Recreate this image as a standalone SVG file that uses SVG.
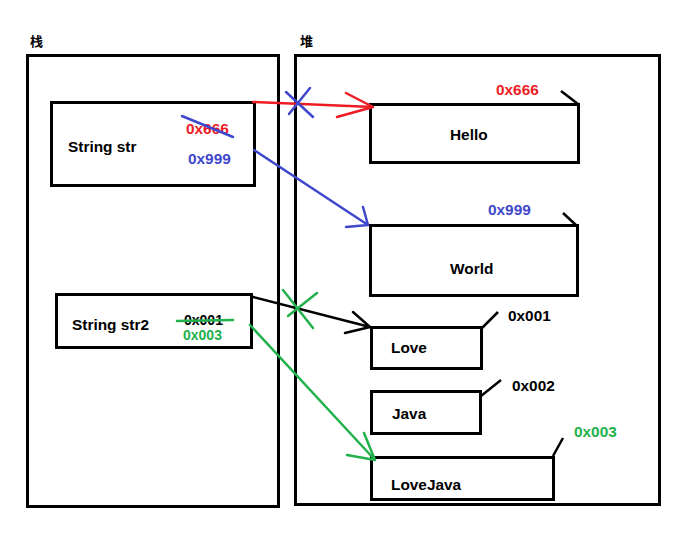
<svg xmlns="http://www.w3.org/2000/svg" width="695" height="557" viewBox="0 0 695 557">
<style>
.box{fill:none;stroke:#000;stroke-width:3}
.t{font-family:"Liberation Sans",Arial,sans-serif;font-weight:bold;font-size:15.4px;fill:#000}
.s{font-size:14px}
.cn{font-family:"Noto Sans CJK SC",sans-serif;font-weight:bold;font-size:13px;fill:#000}
.r{fill:#ed1c24}.b{fill:#3f48cc}.g{fill:#22b14c}
.ln{fill:none;stroke-width:2.5;stroke-linecap:round}
.tick{fill:none;stroke:#000;stroke-width:2.5}
</style>
<rect width="695" height="557" fill="#fff"/>
<text class="cn" x="30" y="46">栈</text>
<text class="cn" x="300" y="46">堆</text>
<g id="stack"><rect class="box" x="27.5" y="55.5" width="251" height="451"/></g>
<g id="heap"><rect class="box" x="295.5" y="55.5" width="364" height="449"/></g>
<g id="str">
<rect class="box" x="51.5" y="102.5" width="203" height="83"/>
<text class="t" x="68" y="152">String str</text>
<text class="t r" x="186" y="134">0x666</text>
<text class="t b" x="188" y="164">0x999</text>
</g>
<g id="str2">
<rect class="box" x="56.5" y="294.5" width="195" height="53"/>
<text class="t" x="72" y="330">String str2</text>
<text class="t s" x="184" y="325">0x001</text>
<text class="t g s" x="183" y="340">0x003</text>
</g>
<g id="hello">
<rect class="box" x="370.5" y="104.5" width="208" height="58"/>
<path class="tick" d="M561 91 L578 104"/>
<text class="t r" x="496" y="95">0x666</text>
<text class="t" x="450" y="140">Hello</text>
</g>
<g id="world">
<rect class="box" x="370.5" y="225.5" width="207" height="70"/>
<path class="tick" d="M563 213 L577 226"/>
<text class="t b" x="488" y="215">0x999</text>
<text class="t" x="450" y="274">World</text>
</g>
<g id="love">
<rect class="box" x="371.5" y="327.5" width="110" height="41"/>
<path class="tick" d="M482 328 L498 312"/>
<text class="t" x="508" y="321">0x001</text>
<text class="t" x="391" y="353">Love</text>
</g>
<g id="java">
<rect class="box" x="371.5" y="391.5" width="109" height="42"/>
<path class="tick" d="M481 396 L501 380"/>
<text class="t" x="512" y="391">0x002</text>
<text class="t" x="392" y="419">Java</text>
</g>
<g id="lovejava">
<rect class="box" x="371.5" y="457.5" width="182" height="42"/>
<path class="tick" d="M553 456 L563 438"/>
<text class="t g" x="574" y="437">0x003</text>
<text class="t" x="391" y="490">LoveJava</text>
</g>
<g id="connectors">
<path class="ln" stroke="#3f48cc" d="M182 116 L233 137"/>
<path class="ln" stroke="#22b14c" d="M177 321 L233 320"/>
<path class="ln" stroke="#ed1c24" d="M253 102 L373 107 M346 93 L373 107 M337 117 L373 107"/>
<path class="ln" stroke="#3f48cc" d="M286 92 L313 117 M310 88 L289 114"/>
<path class="ln" stroke="#3f48cc" d="M254 150 L368 225 M363 207 L368 225 M346 227 L368 225"/>
<path class="ln" stroke="#000" d="M253 297 L370 327 M353 312 L370 327 M345 333 L370 327"/>
<path class="ln" stroke="#22b14c" d="M283 290 L313 328 M317 293 L288 316"/>
<path class="ln" stroke="#22b14c" d="M250 325 L375 460 M364 433 L375 460 M347 455 L375 460"/>
</g>
</svg>
